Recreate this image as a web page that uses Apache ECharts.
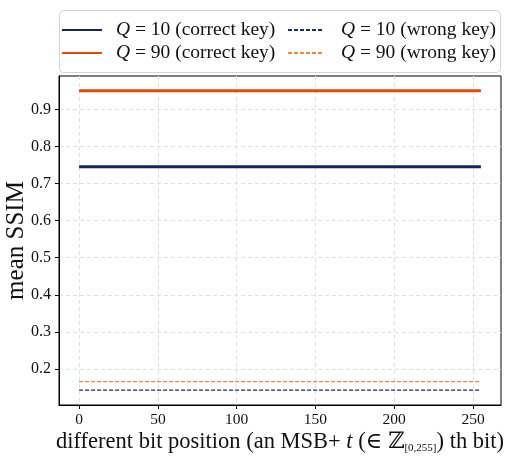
<!DOCTYPE html>
<html>
<head>
<meta charset="utf-8">
<script src="https://cdn.jsdelivr.net/npm/echarts@6/dist/echarts.min.js"></script>
<style>
  html, body { margin: 0; padding: 0; background: #fff; }
  #ssim-line { width: 508px; height: 456px; }
</style>
</head>
<body>
<div id="ssim-line"></div>
<script>
// bit positions (x) and mean SSIM per series
const bitPos = [0, 255]
const q10Correct = [0.745, 0.745]
const q90Correct = [0.95, 0.95]
const q10Wrong = [0.143, 0.143]
const q90Wrong = [0.166, 0.166]
const xTicks = [0, 50, 100, 150, 200, 250]
const yTicks = [0.2, 0.3, 0.4, 0.5, 0.6, 0.7, 0.8, 0.9]

const serif = '"Liberation Serif", "DejaVu Serif", serif'
const navy = '#1b2358'
const orange = '#e34a06'

function pts(ys) {
  return bitPos.map((x, i) => [x, ys[i]])
}

let myChart = echarts.init(document.getElementById('ssim-line'))

const legendText = {
  fontFamily: serif,
  fontSize: 19.5,
  color: '#111',
  lineHeight: 20,
  rich: {
    i: { fontFamily: serif, fontSize: 19.5, fontStyle: 'italic', color: '#111' }
  }
}
function legendFmt(name) {
  return name.replace(/^Q/, '{i|Q}')
}

myChart.setOption({
  animation: false,
  graphic: [{
    type: 'rect',
    z: 0,
    shape: { x: 59.5, y: 10.5, width: 441, height: 62, r: 4 },
    style: { fill: 'rgba(255,255,255,0.9)', stroke: '#d4d4d4', lineWidth: 1 }
  }],
  legend: [
    {
      orient: 'vertical',
      left: 61,
      top: 20,
      padding: 0,
      itemGap: 3,
      itemWidth: 40,
      itemHeight: 14,
      itemStyle: { opacity: 0 },
      data: ['Q = 10 (correct key)', 'Q = 90 (correct key)'],
      formatter: legendFmt,
      textStyle: Object.assign({ padding: [0, 0, 0, 9] }, legendText)
    },
    {
      orient: 'vertical',
      left: 287,
      top: 20,
      padding: 0,
      itemGap: 3,
      itemWidth: 36,
      itemHeight: 14,
      itemStyle: { opacity: 0 },
      data: ['Q = 10 (wrong key)', 'Q = 90 (wrong key)'],
      formatter: legendFmt,
      textStyle: Object.assign({ padding: [0, 0, 0, 12] }, legendText)
    }
  ],
  grid: {
    left: 59,
    right: 7,
    top: 76,
    bottom: 51,
    outerBoundsMode: 'none',
    containLabel: false,
    show: true,
    borderColor: '#000',
    borderWidth: 1
  },
  xAxis: {
    type: 'value',
    min: -12.75,
    max: 267.75,
    splitNumber: 5,
    name: 'different bit position (an MSB+ {i|t} (∈ ℤ{sub|[0,255]}) th bit)',
    nameLocation: 'middle',
    nameMoveOverlap: false,
    nameGap: 25,
    nameTextStyle: {
      fontFamily: serif,
      fontSize: 22.5,
      color: '#111',
      rich: {
        i: { fontFamily: serif, fontSize: 22.5, fontStyle: 'italic', color: '#111' },
        sub: { fontFamily: serif, fontSize: 11, color: '#111', padding: [13, 0, 0, 0] }
      }
    },
    axisLine: { onZero: false, lineStyle: { color: '#000' } },
    axisTick: { customValues: xTicks, length: 4, lineStyle: { color: '#000' } },
    axisLabel: {
      customValues: xTicks,
      margin: 7,
      fontFamily: serif,
      fontSize: 15.5,
      color: '#111'
    },
    splitLine: { show: true, lineStyle: { color: '#e0e0e0', type: [4, 3] } }
  },
  yAxis: {
    type: 'value',
    min: 0.1027,
    max: 0.99,
    splitNumber: 8,
    name: 'mean SSIM',
    nameLocation: 'middle',
    nameMoveOverlap: false,
    nameGap: 30,
    nameTextStyle: { fontFamily: serif, fontSize: 25, color: '#111' },
    axisLine: { show: true, onZero: false, lineStyle: { color: '#000' } },
    axisTick: { show: true, customValues: yTicks, length: 4, lineStyle: { color: '#000' } },
    axisLabel: {
      customValues: yTicks,
      margin: 8,
      fontFamily: serif,
      fontSize: 16,
      color: '#111',
      formatter: v => v.toFixed(1)
    },
    splitLine: { show: true, lineStyle: { color: '#e0e0e0', type: [4, 3] } }
  },
  series: [
    {
      name: 'Q = 10 (correct key)',
      type: 'line',
      symbol: 'none',
      data: pts(q10Correct),
      lineStyle: { color: navy, width: 3 },
      itemStyle: { color: navy }
    },
    {
      name: 'Q = 90 (correct key)',
      type: 'line',
      symbol: 'none',
      data: pts(q90Correct),
      lineStyle: { color: orange, width: 3 },
      itemStyle: { color: orange }
    },
    {
      name: 'Q = 10 (wrong key)',
      type: 'line',
      symbol: 'none',
      data: pts(q10Wrong),
      lineStyle: { color: '#1f2a6a', width: 1.3, type: [4, 2] },
      itemStyle: { color: '#1f2a6a' }
    },
    {
      name: 'Q = 90 (wrong key)',
      type: 'line',
      symbol: 'none',
      data: pts(q90Wrong),
      lineStyle: { color: '#f7843f', width: 1.3, type: [4, 2] },
      itemStyle: { color: '#f7843f' }
    }
  ]
})
</script>
</body>
</html>
